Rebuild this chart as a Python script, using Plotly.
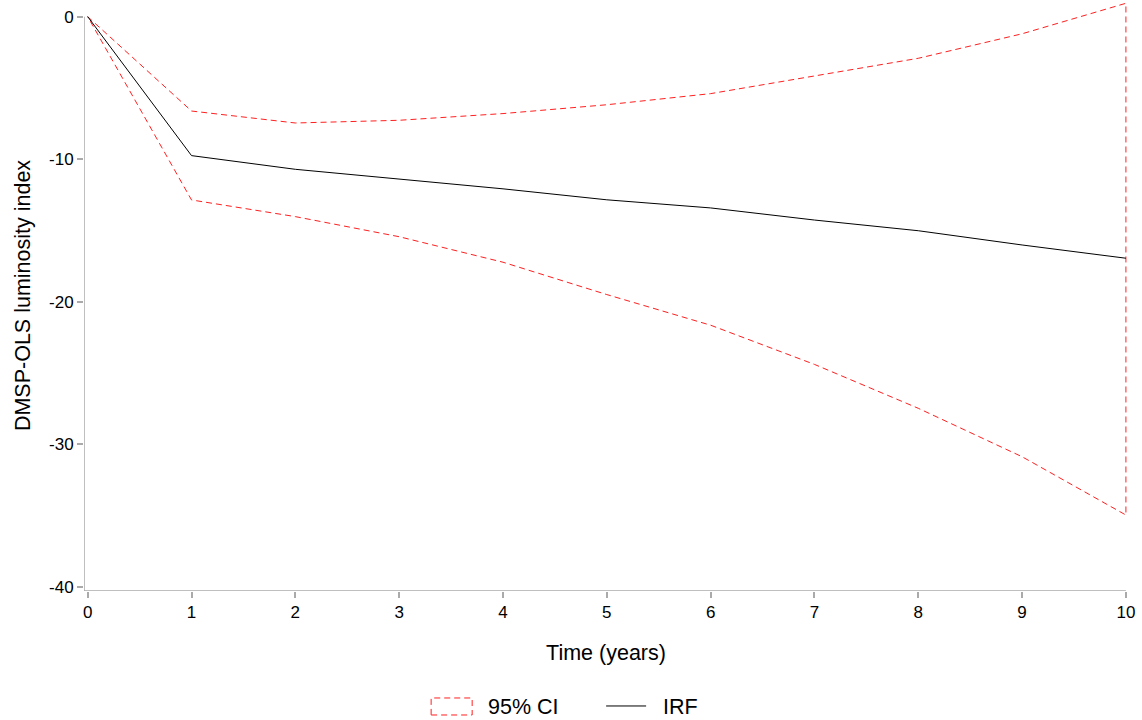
import plotly.graph_objects as go

years = [0, 1, 2, 3, 4, 5, 6, 7, 8, 9, 10]
irf = [0, -9.75, -10.71, -11.37, -12.08, -12.85, -13.42, -14.27, -15.02, -16.02, -16.95]
ci_upper = [0, -6.62, -7.46, -7.27, -6.80, -6.18, -5.40, -4.15, -2.92, -1.20, 0.94]
ci_lower = [0, -12.86, -14.03, -15.44, -17.23, -19.50, -21.65, -24.40, -27.48, -30.88, -34.97]
y_ticks = [0, -10, -20, -30, -40]
x_ticks = years

FONT = "Liberation Sans, Arial, sans-serif"
AXIS_GREY = "#aaaaaa"
CI_RED = "#ff2020"
CI_DASH = "6px,4px"

x_lo, x_hi = -0.0356, 10.02
y_lo, y_hi = -40.30, 1.17

fig = go.Figure()
fig.add_trace(go.Scatter(
    x=years + years[::-1],
    y=ci_upper + ci_lower[::-1],
    mode="lines",
    fill="toself",
    fillcolor="rgba(0,0,0,0)",
    line=dict(color=CI_RED, width=1, dash=CI_DASH),
    name="95% CI",
    showlegend=False,
    hoverinfo="skip",
))
fig.add_trace(go.Scatter(
    x=years, y=irf, mode="lines",
    line=dict(color="black", width=1),
    name="\u00a0\u00a0IRF",
))

# legend entry for the confidence band (off-canvas, icon hidden)
fig.add_shape(type="rect", xref="paper", yref="paper", x0=3, x1=3, y0=3, y1=3,
              line=dict(color="rgba(0,0,0,0)", width=1), fillcolor="rgba(0,0,0,0)",
              showlegend=True, name="\u00a0\u00a095% CI", legendrank=1)
# dashed rectangle swatch next to the "95% CI" legend text
fig.add_shape(type="rect", xref="paper", yref="paper",
              x0=0.3325, x1=0.3718, y0=-0.2098, y1=-0.1810,
              line=dict(color=CI_RED, width=1, dash=CI_DASH), fillcolor="rgba(0,0,0,0)",
              layer="above")

# axis lines (drawn as decorations)
fig.add_shape(type="line", xref="x", yref="y", x0=x_lo, x1=x_lo, y0=y_lo, y1=0,
              line=dict(color=AXIS_GREY, width=1.5), layer="below")
fig.add_shape(type="line", xref="x", yref="y", x0=x_lo, x1=10, y0=y_lo, y1=y_lo,
              line=dict(color=AXIS_GREY, width=1.5), layer="below")

fig.update_layout(
    width=1142, height=720,
    margin=dict(l=84, r=14, t=0, b=129, autoexpand=False),
    paper_bgcolor="white", plot_bgcolor="white",
    font=dict(family=FONT, color="black", size=17),
    showlegend=True,
    legend=dict(
        orientation="h", x=0.3277, xanchor="left", y=-0.1946, yanchor="middle",
        font=dict(size=21.5, family=FONT), itemwidth=40,
        entrywidth=120, traceorder="normal",
        bgcolor="rgba(0,0,0,0)",
    ),
    xaxis=dict(
        range=[x_lo, x_hi], tickvals=x_ticks, ticktext=[str(v) for v in x_ticks],
        showgrid=False, zeroline=False, showline=False, automargin=False,
        ticks="outside", ticklen=6, tickcolor=AXIS_GREY, tickwidth=1.5,
        tickfont=dict(size=17),
        title=dict(text="Time (years)", font=dict(size=21.5), standoff=23),
    ),
    yaxis=dict(
        range=[y_lo, y_hi], tickvals=y_ticks, ticktext=[str(v) for v in y_ticks],
        showgrid=False, zeroline=False, showline=False, automargin=False,
        ticks="outside", ticklen=6, tickcolor=AXIS_GREY, tickwidth=1.5,
        tickfont=dict(size=17),
        title=dict(text="DMSP-OLS luminosity index", font=dict(size=21.5), standoff=12),
    ),
)

fig.write_html("out.html", config={"displayModeBar": False},
               post_script="document.body.style.margin='0';")
